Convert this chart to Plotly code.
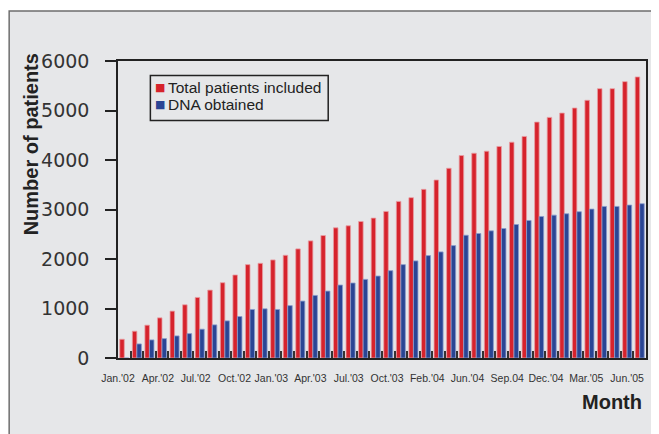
import plotly.graph_objects as go

# ---- data ----
months = [f"{y}-{m:02d}" for y in (2002, 2003, 2004, 2005) for m in range(1, 13)][:42]
total_patients = [379, 541, 663, 811, 947, 1075, 1223, 1372, 1521, 1677,
                  1886, 1913, 1981, 2075, 2204, 2366, 2474, 2630, 2671, 2758,
                  2826, 2961, 3164, 3239, 3407, 3596, 3833, 4090, 4137, 4178,
                  4273, 4360, 4476, 4766, 4861, 4948, 5050, 5206, 5441, 5441,
                  5583, 5678]
dna_obtained = [0, 284, 365, 392, 446, 493, 582, 669, 750, 838,
                980, 994, 980, 1058, 1150, 1264, 1352, 1474, 1515, 1588,
                1656, 1764, 1886, 1961, 2069, 2143, 2271, 2480, 2515, 2569,
                2616, 2697, 2778, 2859, 2886, 2914, 2955, 3008, 3062, 3062,
                3089, 3117]
series_names = ["Total patients included", "DNA obtained"]
tick_labels = ["Jan.'02", "Apr.'02", "Jul.'02", "Oct.'02", "Jan.'03", "Apr.'03",
               "Jul.'03", "Oct.'03", "Feb.'04", "Jun.'04", "Sep.04", "Dec.'04",
               "Mar.'05", "Jun.'05"]
tick_positions = [-0.5, 2.67, 5.68, 8.77, 11.7, 14.8, 17.85, 20.9, 24.1, 27.3,
                  30.46, 33.55, 36.75, 40.0]

x_idx = list(range(len(months)))

RED = "#d6232c"
BLUE = "#2a4594"
DARK = "#222222"
FONT = "Liberation Sans, Arial, sans-serif"

fig = go.Figure()
fig.add_trace(go.Bar(x=x_idx, y=total_patients, name=series_names[0],
                     marker=dict(color=RED, line=dict(color="#e99ea3", width=0.8))))
fig.add_trace(go.Bar(x=x_idx, y=dna_obtained, name=series_names[1],
                     marker=dict(color=BLUE, line=dict(color="#8a9ccc", width=0.8))))

# page body adds an 8px offset; the figure is sized to the remaining window
OFF = 8
W, H = 659 - OFF, 434 - OFF
L, T = 118 - OFF, 61 - OFF
PR, PB = 648 - OFF, 358 - OFF
R, B = W - PR, H - PB
pw = PR - L
ph = PB - T


def px_x(p):
    return (p - OFF - L) / pw


def px_y(p):
    return (PB - (p - OFF)) / ph


legend_items = [
    dict(text="■", xref="paper", yref="paper", x=px_x(160), y=px_y(87.5),
         xanchor="center", yanchor="middle", showarrow=False,
         font=dict(size=11, family="DejaVu Sans", color=RED)),
    dict(text=series_names[0], xref="paper", yref="paper", x=px_x(166.5), y=px_y(87.5),
         xanchor="left", yanchor="middle", showarrow=False,
         font=dict(size=15.5, family=FONT, color=DARK)),
    dict(text="■", xref="paper", yref="paper", x=px_x(160), y=px_y(104),
         xanchor="center", yanchor="middle", showarrow=False,
         font=dict(size=11, family="DejaVu Sans", color=BLUE)),
    dict(text=series_names[1], xref="paper", yref="paper", x=px_x(166.5), y=px_y(104),
         xanchor="left", yanchor="middle", showarrow=False,
         font=dict(size=15.5, family=FONT, color=DARK)),
]

fig.update_layout(
    width=W, height=H,
    margin=dict(l=L, r=R, t=T, b=B, pad=0),
    paper_bgcolor="white",
    plot_bgcolor="rgba(0,0,0,0)",
    barmode="group",
    bargap=0.28,
    bargroupgap=0,
    font=dict(family=FONT, color=DARK),
    showlegend=False,
    shapes=[
        dict(type="rect", xref="paper", yref="paper",
             x0=px_x(OFF + 0.75), x1=1.2, y0=-0.6, y1=px_y(11),
             fillcolor="#e6e7e9", line=dict(color="#6e6e6e", width=1.5),
             layer="below"),
        dict(type="rect", xref="paper", yref="paper",
             x0=px_x(150.5), x1=px_x(329), y0=px_y(120.5), y1=px_y(75.5),
             fillcolor="rgba(0,0,0,0)", line=dict(color=DARK, width=1.5)),
    ],
    annotations=[
        dict(text="<b>Number of patients</b>", xref="paper", yref="paper",
             x=px_x(31), y=px_y(144), textangle=-90, showarrow=False,
             xanchor="center", yanchor="middle",
             font=dict(size=20, family=FONT, color=DARK)),
        dict(text="<b>Month</b>", xref="paper", yref="paper",
             x=px_x(646), y=px_y(402), showarrow=False,
             xanchor="right", yanchor="middle",
             font=dict(size=20, family=FONT, color=DARK)),
    ] + legend_items,
)

fig.update_yaxes(
    range=[0, 6000], dtick=1000, tick0=0,
    showline=True, linecolor=DARK, linewidth=1.5, mirror=True,
    ticks="outside", ticklen=11, tickwidth=1.5, tickcolor=DARK,
    showgrid=False, zeroline=False,
    tickfont=dict(size=19, family="DejaVu Sans, sans-serif", color="#333333"),
    ticklabelstandoff=12,
)
fig.update_xaxes(
    range=[-0.5, len(months) - 0.5],
    tickmode="array", tickvals=tick_positions, ticktext=tick_labels,
    ticks="", showline=True, linecolor=DARK, linewidth=1.5, mirror=True,
    showgrid=False, zeroline=False,
    tickfont=dict(size=10.5, family=FONT, color="#333333"),
    ticklabelstandoff=10,
    minor=dict(tickmode="array", tickvals=[i + 0.5 for i in x_idx[:-1]],
               ticks="inside", ticklen=7, tickwidth=1.5, tickcolor="#333333",
               showgrid=False),
)

fig.write_html("out.html")
